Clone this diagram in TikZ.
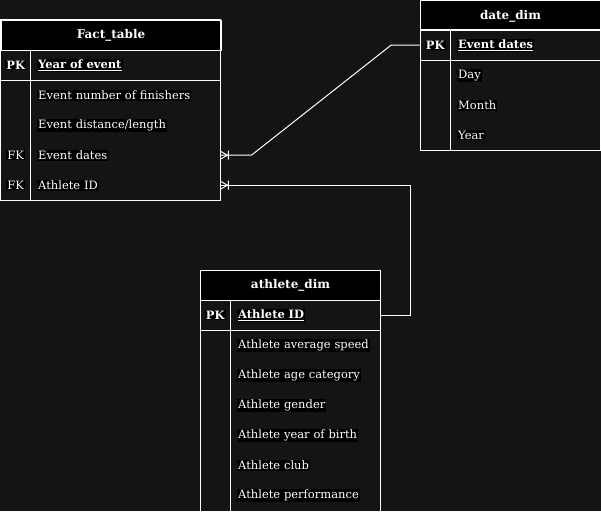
\documentclass[tikz,border=0pt]{standalone}
\usepackage{fontspec}
\setmainfont{DejaVu Serif}
\definecolor{bg}{HTML}{141414}
\setlength{\fboxsep}{1pt}
\newcommand\hl[1]{\colorbox{black}{#1}}
\newcommand\crowfoot[1]{%
  \draw[conn] ([xshift=7pt]#1.east) -- ([yshift=4pt]#1.east)
              ([xshift=7pt]#1.east) -- ([yshift=-4pt]#1.east)
              ([xshift=8pt,yshift=4.5pt]#1.east) -- ([xshift=8pt,yshift=-4.5pt]#1.east);}
\begin{document}
\begin{tikzpicture}[x=1pt,y=-1pt,
  tbl/.style={draw=white, line width=1pt},
  conn/.style={draw=white, line width=1pt},
  hdr/.style={draw=white, line width=1pt, fill=black, text=white,
    font=\fontsize{12}{14}\selectfont\bfseries, minimum height=30pt,
    inner sep=0, anchor=north west},
  keyc/.style={minimum width=30pt, minimum height=30pt, inner sep=0,
    anchor=north west, text=white, font=\fontsize{11.5}{13}\selectfont},
  keyb/.style={keyc, font=\fontsize{11.5}{13}\selectfont\bfseries},
  fieldc/.style={minimum height=30pt, text width=#1, align=left,
    inner xsep=7pt, inner ysep=0, anchor=north west, text=white,
    font=\fontsize{11.5}{13}\selectfont},
  fieldb/.style={fieldc=#1, font=\fontsize{11.5}{13}\selectfont\bfseries},
]
\useasboundingbox (0,0) rectangle (601,511);
\fill[bg] (0,0) rectangle (601,511);
\clip (0,0) rectangle (601,511);

% ---------- Fact_table ----------
\node[hdr, minimum width=220pt] (fact) at (0.5,20) {Fact\_table};
\node[keyb] (fact-pkk) at (0.5,50) {\hl{PK}};
\node[fieldb=176pt] (fact-pk) at (30,50) {\hl{\underline{Year of event}}};
\node[fieldc=176pt] (fact-f1) at (30,80) {\hl{Event number of finishers}};
\node[fieldc=176pt] (fact-f2) at (30,110) {\hl{Event distance/length}};
\node[keyc] (fact-k3) at (0.5,140) {\hl{FK}};
\node[fieldc=176pt] (fact-f3) at (30,140) {\hl{Event dates}};
\node[keyc] (fact-k4) at (0.5,170) {\hl{FK}};
\node[fieldc=176pt] (fact-f4) at (30,170) {\hl{Athlete ID}};
\draw[tbl] (0.5,20) rectangle (220,200);
\draw[tbl] (0.5,50) -- (220,50) (0.5,80) -- (220,80) (30,50) -- (30,200);

% ---------- date_dim ----------
\node[hdr, minimum width=180pt] (date) at (420,0.5) {date\_dim};
\node[keyb] (date-pkk) at (420,30) {\hl{PK}};
\node[fieldb=136pt] (date-pk) at (450,30) {\hl{\underline{Event dates}}};
\node[fieldc=136pt] (date-f1) at (450,60) {\hl{Day}};
\node[fieldc=136pt] (date-f2) at (450,90) {\hl{Month}};
\node[fieldc=136pt] (date-f3) at (450,120) {\hl{Year}};
\draw[tbl] (420,0.5) rectangle (600,150);
\draw[tbl] (420,30) -- (600,30) (420,60) -- (600,60) (450,30) -- (450,150);

% ---------- athlete_dim ----------
\node[hdr, minimum width=180pt] (ath) at (200,270) {athlete\_dim};
\node[keyb] (ath-pkk) at (200,300) {\hl{PK}};
\node[fieldb=136pt] (ath-pk) at (230,300) {\hl{\underline{Athlete ID}}};
\node[fieldc=136pt] (ath-f1) at (230,330) {\hl{Athlete average speed}};
\node[fieldc=136pt] (ath-f2) at (230,360) {\hl{Athlete age category}};
\node[fieldc=136pt] (ath-f3) at (230,390) {\hl{Athlete gender}};
\node[fieldc=136pt] (ath-f4) at (230,420) {\hl{Athlete year of birth}};
\node[fieldc=136pt] (ath-f5) at (230,450) {\hl{Athlete club}};
\node[fieldc=136pt] (ath-f6) at (230,480) {\hl{Athlete performance}};
\draw[tbl] (200,270) rectangle (380,530);
\draw[tbl] (200,300) -- (380,300) (200,330) -- (380,330) (230,300) -- (230,530);

% ---------- connectors ----------
\draw[conn] (fact-f3.east) -- ++(31,0) -- ([xshift=-29pt]date-pkk.west) -- (date-pkk.west);
\crowfoot{fact-f3}
\draw[conn] (fact-f4.east) -| ([xshift=30pt]ath-pk.east) -- (ath-pk.east);
\crowfoot{fact-f4}
\end{tikzpicture}
\end{document}
